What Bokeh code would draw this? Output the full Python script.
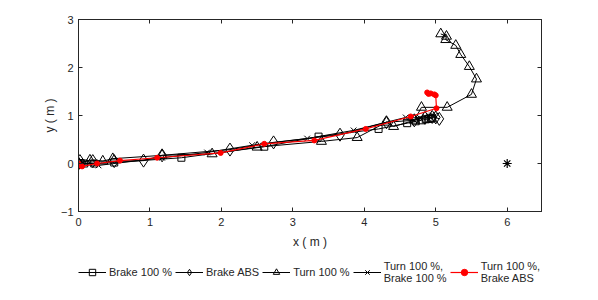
from bokeh.plotting import figure
from bokeh.layouts import column
from bokeh.models import Range1d, LinearAxis, Legend, LegendItem, FixedTicker
from bokeh.embed import file_html
from bokeh.resources import INLINE

# ---- data ----
brake100_x = [0.0, 0.03, 0.08, 0.22, 0.5, 1.44, 2.6, 3.36, 4.2, 4.6, 4.72, 4.8, 4.86, 4.9, 4.93, 4.95]
brake100_y = [0.0, 0.01, 0.0, 0.0, 0.02, 0.12, 0.35, 0.56, 0.72, 0.84, 0.88, 0.9, 0.92, 0.93, 0.94, 0.94]

abs_x = [0.0, 0.02, 0.2, 0.5, 0.91, 1.17, 2.12, 2.73, 3.66, 4.31, 4.7, 4.85, 4.95, 5.0, 5.05]
abs_y = [0.0, 0.05, 0.05, 0.05, 0.06, 0.17, 0.29, 0.44, 0.6, 0.86, 0.9, 0.95, 0.97, 0.96, 0.93]

turn_x = [0.0, 0.16, 0.34, 0.48, 1.17, 1.87, 2.5, 3.4, 3.9, 4.31, 4.41, 4.7, 4.8, 5.16, 5.5, 5.57, 5.47, 5.35, 5.28, 5.14, 5.15, 5.07]
turn_y = [0.0, 0.07, 0.05, 0.1, 0.17, 0.2, 0.34, 0.46, 0.54, 0.86, 0.77, 0.9, 1.17, 1.17, 1.44, 1.76, 2.02, 2.27, 2.46, 2.58, 2.65, 2.7]

tb100_x = [0.0, 0.02, 0.28, 1.17, 1.8, 2.43, 3.2, 3.85, 4.58, 4.7, 4.78, 4.85, 4.9, 4.95, 4.98]
tb100_y = [0.0, -0.02, -0.04, 0.12, 0.23, 0.38, 0.52, 0.69, 0.96, 0.9, 0.95, 0.98, 1.0, 1.0, 0.99]

tbabs_x = [0.0, 0.02, 0.05, 0.26, 0.58, 1.1, 1.99, 2.6, 3.3, 4.02, 4.65, 5.01, 5.0, 4.98, 4.93, 4.9, 4.88]
tbabs_y = [0.0, -0.04, -0.06, 0.0, 0.06, 0.12, 0.22, 0.41, 0.48, 0.72, 0.98, 1.15, 1.42, 1.44, 1.46, 1.45, 1.48]

star_x = [6.0]
star_y = [0.0]

x_ticks = [0, 1, 2, 3, 4, 5, 6]
y_ticks = [-1, 0, 1, 2, 3]

labels = ["Brake 100 %", "Brake ABS", "Turn 100 %", "Turn 100 %,\nBrake 100 %", "Turn 100 %,\nBrake ABS"]

AX = "#262626"
FONT = "Liberation Sans"

p = figure(frame_width=463, frame_height=192, output_backend="svg", toolbar_location=None,
           x_range=Range1d(0, 6.48), y_range=Range1d(-1, 3),
           min_border_left=78, min_border_right=20, min_border_top=19, min_border_bottom=45,
           x_axis_label="x ( m )", y_axis_label="y ( m )")
p.grid.visible = False
p.outline_line_color = AX
p.background_fill_color = "white"

for ax in [p.xaxis[0], p.yaxis[0]]:
    ax.major_tick_in = 4
    ax.major_tick_out = 0
    ax.minor_tick_line_color = None
    ax.axis_line_color = AX
    ax.major_tick_line_color = AX
    ax.major_label_text_color = AX
    ax.major_label_text_font = FONT
    ax.major_label_text_font_size = "11px"
    ax.axis_label_text_font = FONT
    ax.axis_label_text_font_size = "12px"
    ax.axis_label_text_font_style = "normal"
    ax.axis_label_text_color = AX
p.xaxis[0].ticker = FixedTicker(ticks=x_ticks)
p.yaxis[0].ticker = FixedTicker(ticks=y_ticks)
p.xaxis[0].major_label_standoff = 6
p.yaxis[0].major_label_standoff = 5
p.xaxis[0].axis_label_standoff = 6
p.yaxis[0].axis_label_standoff = 1

top = LinearAxis(ticker=FixedTicker(ticks=x_ticks), major_label_text_font_size="1px",
                 major_label_text_color=None, major_label_standoff=0,
                 major_tick_in=4, major_tick_out=0, minor_tick_line_color=None,
                 axis_line_color=AX, major_tick_line_color=AX)
right = LinearAxis(ticker=FixedTicker(ticks=y_ticks), major_label_text_font_size="1px",
                   major_label_text_color=None, major_label_standoff=0,
                   major_tick_in=4, major_tick_out=0, minor_tick_line_color=None,
                   axis_line_color=AX, major_tick_line_color=AX)
p.add_layout(top, "above")
p.add_layout(right, "right")

styles = [
    dict(line_color="black", line_width=1, marker="square", size=7, fill_color=None, mline="black"),
    dict(line_color="black", line_width=1, marker="diamond", size=13, fill_color=None, mline="black"),
    dict(line_color="black", line_width=1, marker="triangle", size=10, fill_color=None, mline="black"),
    dict(line_color="black", line_width=1, marker="x", size=8, fill_color=None, mline="black"),
    dict(line_color="#ff0000", line_width=1.2, marker="circle", size=5, fill_color="#ff0000", mline="#ff0000"),
]
series = [(brake100_x, brake100_y), (abs_x, abs_y), (turn_x, turn_y), (tb100_x, tb100_y), (tbabs_x, tbabs_y)]

for (xs, ys), st in zip(series, styles):
    p.line(xs, ys, line_color=st["line_color"], line_width=st["line_width"])
    p.scatter(xs, ys, marker=st["marker"], size=st["size"], fill_color=st["fill_color"], line_color=st["mline"])
p.scatter(star_x, star_y, marker="asterisk", size=9, line_color="black", line_width=1.2)

# legend strip below the plot; its renderers hold the same data but lie outside its view
lg = figure(width=598, height=44, output_backend="svg", toolbar_location=None,
            x_axis_type=None, y_axis_type=None, x_range=Range1d(100, 101), y_range=Range1d(100, 101),
            min_border=0)
lg.grid.visible = False
lg.outline_line_color = None
items = []
for lab, (xs, ys), st in zip(labels, series, styles):
    lr = lg.line(xs, ys, line_color=st["line_color"], line_width=st["line_width"])
    sr = lg.scatter(xs, ys, marker=st["marker"], size=st["size"], fill_color=st["fill_color"], line_color=st["mline"])
    items.append(LegendItem(label=lab, renderers=[lr, sr]))

legend = Legend(items=items, orientation="horizontal", location=(0, 16),
                glyph_width=28, glyph_height=16, label_standoff=3, spacing=3,
                padding=0, margin=0, border_line_color=None, background_fill_alpha=0,
                label_text_font=FONT, label_text_font_size="11px", label_text_color=AX,
                label_height=14)
lg.add_layout(legend, "center")

layout = column(p, lg, spacing=0)
open("out.html", "w").write(file_html(layout, INLINE))
